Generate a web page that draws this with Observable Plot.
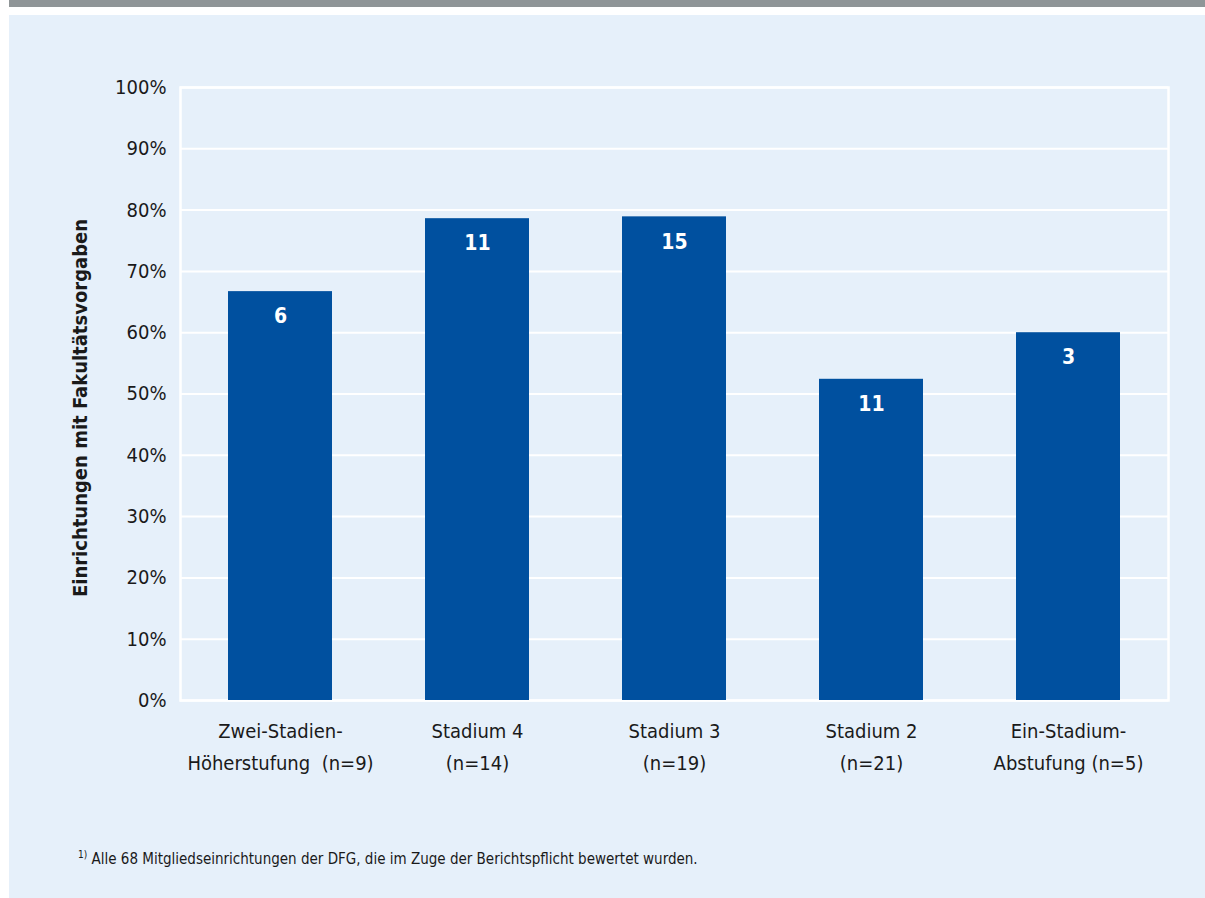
<!DOCTYPE html>
<html>
<head>
<meta charset="utf-8">
<script src="https://cdn.jsdelivr.net/npm/d3@7"></script>
<script src="https://cdn.jsdelivr.net/npm/@observablehq/plot@0.6"></script>
<style>
  html, body { margin: 0; padding: 0; background: #ffffff; width: 1205px; height: 898px; overflow: hidden; }
  #topbar { position: absolute; left: 9px; top: 0; width: 1196px; height: 7px; background: #8f9597; }
  #panel { position: absolute; left: 9px; top: 15px; width: 1196px; height: 883px; background: #e6f0fa; }
  #chart { position: absolute; left: 0; top: 0; }
  #foot { position: absolute; left: 69px; top: 834px; font-family: "Liberation Sans Narrow", "DejaVu Sans Condensed", sans-serif; font-size: 15px; color: #1a1a1a; }
  #foot sup { font-size: 10px; }
</style>
</head>
<body>
<div id="topbar"></div>
<div id="panel">
  <div id="chart"></div>
  <div id="foot"><sup>1)</sup> Alle 68 Mitgliedseinrichtungen der DFG, die im Zuge der Berichtspflicht bewertet wurden.</div>
</div>
<script>
const categories = ["Zwei-Stadien-\nHöherstufung\u00a0\u00a0(n=9)", "Stadium 4\n(n=14)", "Stadium 3\n(n=19)", "Stadium 2\n(n=21)", "Ein-Stadium-\nAbstufung (n=5)"];
const shares = [0.667, 0.786, 0.789, 0.524, 0.60];
const counts = [6, 11, 15, 11, 3];
const yTicks = [0, 0.1, 0.2, 0.3, 0.4, 0.5, 0.6, 0.7, 0.8, 0.9, 1.0];

const data = categories.map((c, i) => ({cat: c, share: shares[i], n: counts[i]}));
const font = '"Liberation Sans Narrow", "DejaVu Sans Condensed", sans-serif';

const chart = Plot.plot({
  width: 1196,
  height: 800,
  marginLeft: 171,
  marginRight: 37,
  marginTop: 72,
  marginBottom: 115,
  style: {background: "transparent", fontFamily: font, fontSize: "20px", color: "#1a1a1a"},
  x: {domain: categories, paddingInner: 0.472, paddingOuter: 0.236, label: null},
  y: {domain: [0, 1], label: null},
  marks: [
    Plot.ruleY(yTicks, {stroke: "#ffffff", strokeWidth: 2}),
    Plot.frame({stroke: "#ffffff", strokeWidth: 2.5}),
    Plot.barY(data, {x: "cat", y: "share", fill: "#00509f"}),
    Plot.text(data, {x: "cat", y: "share", text: d => String(d.n), dy: 25, fill: "#ffffff", fontWeight: "bold", fontSize: 21}),
    Plot.axisY(yTicks, {tickFormat: d3.format(".0%"), tickSize: 0, tickPadding: 14, fontSize: 20, label: null}),
    Plot.axisX({tickSize: 0, tickPadding: 15, fontSize: 20, lineHeight: 1.6, label: null}),
    Plot.text(["Einrichtungen mit Fakultätsvorgaben"], {frameAnchor: "left", textAnchor: "middle", dx: -100, dy: 14, rotate: -90, fontWeight: "bold", fontSize: 20, fill: "#1a1a1a"})
  ]
});
document.getElementById("chart").appendChild(chart);
</script>
</body>
</html>
